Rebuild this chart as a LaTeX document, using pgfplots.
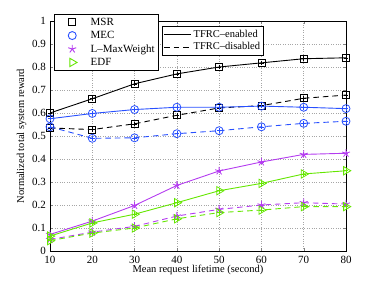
\documentclass[border=0pt]{standalone}
\usepackage{pgfplots}
\usepackage{pgfplotstable}
\pgfplotsset{compat=1.18}
\usepackage{fontspec}
\setmainfont{Liberation Serif}
\definecolor{cblue}{RGB}{40,80,255}
\definecolor{cmag}{RGB}{180,60,240}
\definecolor{cgreen}{RGB}{100,230,0}
\pgfplotstableread{
x  msr   msrd  mec   mecd  lmw   lmwd  edf   edfd
10 0.600 0.535 0.575 0.540 0.072 0.050 0.065 0.045
20 0.662 0.528 0.598 0.490 0.130 0.082 0.122 0.078
30 0.727 0.553 0.615 0.492 0.198 0.107 0.160 0.100
40 0.770 0.590 0.625 0.510 0.285 0.152 0.210 0.140
50 0.800 0.622 0.625 0.523 0.348 0.181 0.262 0.167
60 0.818 0.632 0.630 0.540 0.387 0.200 0.294 0.178
70 0.836 0.664 0.625 0.555 0.420 0.210 0.335 0.193
80 0.840 0.678 0.619 0.564 0.425 0.204 0.349 0.193
}\data
\pgfplotsset{
  base/.style={scale only axis, width=296pt, height=230pt, at={(0,0)}, anchor=south west,
    xmin=10, xmax=80, ymin=0, ymax=1},
  sol/.style={line width=0.9pt, solid, mark options={solid, line width=0.8pt}},
  das/.style={line width=0.9pt, dash pattern=on 5.5pt off 4pt, mark options={solid, line width=0.8pt}},
  crs/.style={only marks, mark=+, mark size=2.3pt, mark options={line width=0.5pt}, forget plot},
  mkimg/.style={legend image code/.code={%
    \path (0pt,0pt) (32pt,0pt);
    \draw[only marks] plot coordinates {(16pt,0pt)};}},
  lnimg/.style={legend image code/.code={%
    \draw (0pt,0pt) -- (27pt,0pt);}},
}
\begin{document}
\begin{tikzpicture}
\path[use as bounding box] (-50pt,-32pt) rectangle (332pt,251pt);
\begin{axis}[base,
  xtick={10,20,30,40,50,60,70,80},
  ytick={0,0.1,0.2,0.3,0.4,0.5,0.6,0.7,0.8,0.9,1},
  yticklabels={0,0.1,0.2,0.3,0.4,0.5,0.6,0.7,0.8,0.9,1},
  grid=major, grid style={dotted, gray!70, line width=0.5pt},
  tick align=inside, major tick length=3pt,
  axis line style={line width=0.6pt},
  /pgf/number format/assume math mode=true,
  tick label style={font=\fontsize{11}{13}\selectfont},
  xticklabel style={yshift=-1.5pt},
  yticklabel style={xshift=-0.5pt},
  label style={font=\fontsize{10.5}{12}\selectfont},
  xlabel={Mean request lifetime (second)},
  ylabel={Normalized total system reward},
  xlabel style={yshift=5pt},
  ylabel style={yshift=-1pt},
  legend cell align=left,
  legend style={at={(0.0135,1.03)}, anchor=north west, draw=black, line width=0.6pt,
    font=\fontsize{11}{13}\selectfont, row sep=0.5pt, inner sep=1.5pt, fill=white},
]
\addlegendimage{mkimg, black, mark=square, mark size=3.5pt, line width=0.9pt}
\addlegendentry{MSR}
\addlegendimage{mkimg, cblue, mark=o, mark size=4pt, line width=0.9pt}
\addlegendentry{MEC}
\addlegendimage{mkimg, cmag, mark=star, mark size=4.2pt, line width=0.9pt}
\addlegendentry{L\textendash MaxWeight}
\addlegendimage{mkimg, cgreen, mark=triangle, mark size=4.8pt, mark options={rotate=-90}, line width=0.9pt}
\addlegendentry{EDF}

% MSR
\addplot[sol, black, mark=square, mark size=3.5pt, forget plot] table[y=msr] {\data};
\addplot[crs, black] table[y=msr] {\data};
\addplot[das, black, mark=square, mark size=3.5pt, forget plot] table[y=msrd] {\data};
\addplot[crs, black] table[y=msrd] {\data};
% MEC
\addplot[sol, cblue, mark=o, mark size=4pt, forget plot] table[y=mec] {\data};
\addplot[crs, cblue] table[y=mec] {\data};
\addplot[das, cblue, mark=o, mark size=4pt, forget plot] table[y=mecd] {\data};
\addplot[crs, cblue] table[y=mecd] {\data};
% L-MaxWeight
\addplot[sol, cmag, mark=star, mark size=4.2pt, forget plot] table[y=lmw] {\data};
\addplot[crs, cmag] table[y=lmw] {\data};
\addplot[das, cmag, mark=star, mark size=4.2pt, forget plot] table[y=lmwd] {\data};
\addplot[crs, cmag] table[y=lmwd] {\data};
% EDF
\addplot[sol, cgreen, mark=triangle, mark size=4.8pt, mark options={solid, rotate=-90, line width=0.8pt}, forget plot] table[y=edf] {\data};
\addplot[crs, cgreen] table[y=edf] {\data};
\addplot[das, cgreen, mark=triangle, mark size=4.8pt, mark options={solid, rotate=-90, line width=0.8pt}, forget plot] table[y=edfd] {\data};
\addplot[crs, cgreen] table[y=edfd] {\data};
\end{axis}
\begin{axis}[base, hide axis,
  legend cell align=left,
  legend style={at={(0.378,0.978)}, anchor=north west, draw=black, line width=0.6pt,
    font=\fontsize{10.5}{12.5}\selectfont, row sep=0pt, inner sep=1.5pt, fill=white},
]
\addlegendimage{lnimg, black, solid, line width=0.9pt}
\addlegendentry{TFRC\textendash enabled}
\addlegendimage{lnimg, black, dash pattern=on 5.5pt off 4pt, line width=0.9pt}
\addlegendentry{TFRC\textendash disabled}
\end{axis}
\end{tikzpicture}
\end{document}
